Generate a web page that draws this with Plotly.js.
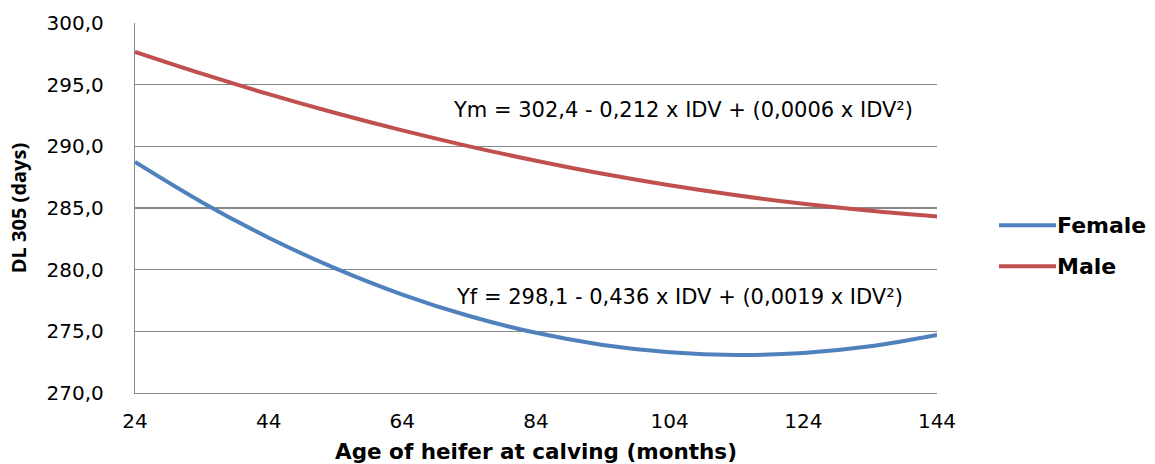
<!DOCTYPE html>
<html>
<head>
<meta charset="utf-8">
<script src="https://cdn.plot.ly/plotly-3.0.1.min.js"></script>
<style>html,body{margin:0;padding:0;background:#fff;}#chart{width:1155px;height:464px;}</style>
</head>
<body>
<div id="chart"></div>
<script>
const ageMonths = [24, 34, 44, 54, 64, 74, 84, 94, 104, 114, 124, 134, 144];
const femaleDL = [288.73, 285.47, 282.59, 280.10, 277.98, 276.24, 274.88, 273.90, 273.31, 273.09, 273.25, 273.79, 274.71];
const maleDL = [297.66, 295.89, 294.23, 292.70, 291.29, 290.00, 288.83, 287.77, 286.84, 286.03, 285.34, 284.77, 284.31];
const seriesNames = ['Female', 'Male'];
const xTicks = [24, 44, 64, 84, 104, 124, 144];
const yTicks = [270, 275, 280, 285, 290, 295, 300];
const eqMale = 'Ym = 302,4 - 0,212 x IDV + (0,0006 x IDV²)';
const eqFemale = 'Yf = 298,1 - 0,436 x IDV + (0,0019 x IDV²)';

const FONT = 'DejaVu Sans, Verdana, sans-serif';
const FONT_V = 'Open Sans, Liberation Sans, sans-serif';
const COLORS = ['#4F81BD', '#C0504D'];

const traces = [
  {x: ageMonths, y: femaleDL, name: seriesNames[0], mode: 'lines', line: {color: COLORS[0], width: 4, shape: 'spline'}},
  {x: ageMonths, y: maleDL, name: seriesNames[1], mode: 'lines', line: {color: COLORS[1], width: 4, shape: 'spline'}}
];

// manual legend (paper coordinates)
const legX0 = 1.0773, legX1 = 1.1484, legYs = [0.4535, 0.3427];
const shapes = seriesNames.map((n, i) => ({
  type: 'line', xref: 'paper', yref: 'paper', x0: legX0, x1: legX1, y0: legYs[i], y1: legYs[i],
  line: {color: COLORS[i], width: 4}
}));
const legendText = seriesNames.map((n, i) => ({
  xref: 'paper', yref: 'paper', x: legX1 - 0.001, y: legYs[i], xanchor: 'left', yanchor: 'middle',
  text: '<b>' + n + '</b>', showarrow: false, font: {family: FONT, size: 22, color: '#000'}
}));

const layout = {
  width: 1155, height: 464,
  margin: {l: 135, r: 218, t: 23, b: 71, pad: 0},
  paper_bgcolor: '#fff', plot_bgcolor: '#fff',
  separators: ', ',
  font: {family: FONT, size: 16, color: '#000'},
  showlegend: false,
  xaxis: {
    range: [24, 144], tickvals: xTicks, ticktext: xTicks.map(String),
    showgrid: false, zeroline: false, showline: true, linecolor: '#888', linewidth: 1.2,
    ticks: '', ticklabelstandoff: 10,
    tickfont: {family: FONT, size: 20, color: '#000'},
    title: {text: '<b>Age of heifer at calving (months)</b>', font: {family: FONT, size: 21.5, color: '#000'}, standoff: 13}
  },
  yaxis: {
    range: [270, 300], tickvals: yTicks, tickformat: '.1f',
    showgrid: true, gridcolor: '#888', gridwidth: 1.2, zeroline: false,
    showline: true, linecolor: '#888', linewidth: 1.2,
    ticks: '', ticklabelstandoff: 26,
    tickfont: {family: FONT, size: 20, color: '#000'},
    title: {text: '<b>DL 305 (days)</b>', font: {family: FONT_V, size: 20, color: '#000'}, standoff: 14}
  },
  shapes: shapes,
  annotations: [
    {xref: 'paper', yref: 'paper', x: 0.9726, y: 0.765, xanchor: 'right', yanchor: 'middle', text: eqMale, showarrow: false, font: {family: FONT, size: 21, color: '#000'}},
    {xref: 'paper', yref: 'paper', x: 0.960, y: 0.259, xanchor: 'right', yanchor: 'middle', text: eqFemale, showarrow: false, font: {family: FONT, size: 21, color: '#000'}}
  ].concat(legendText)
};

Plotly.newPlot('chart', traces, layout, {displayModeBar: false, staticPlot: true});
</script>
</body>
</html>
